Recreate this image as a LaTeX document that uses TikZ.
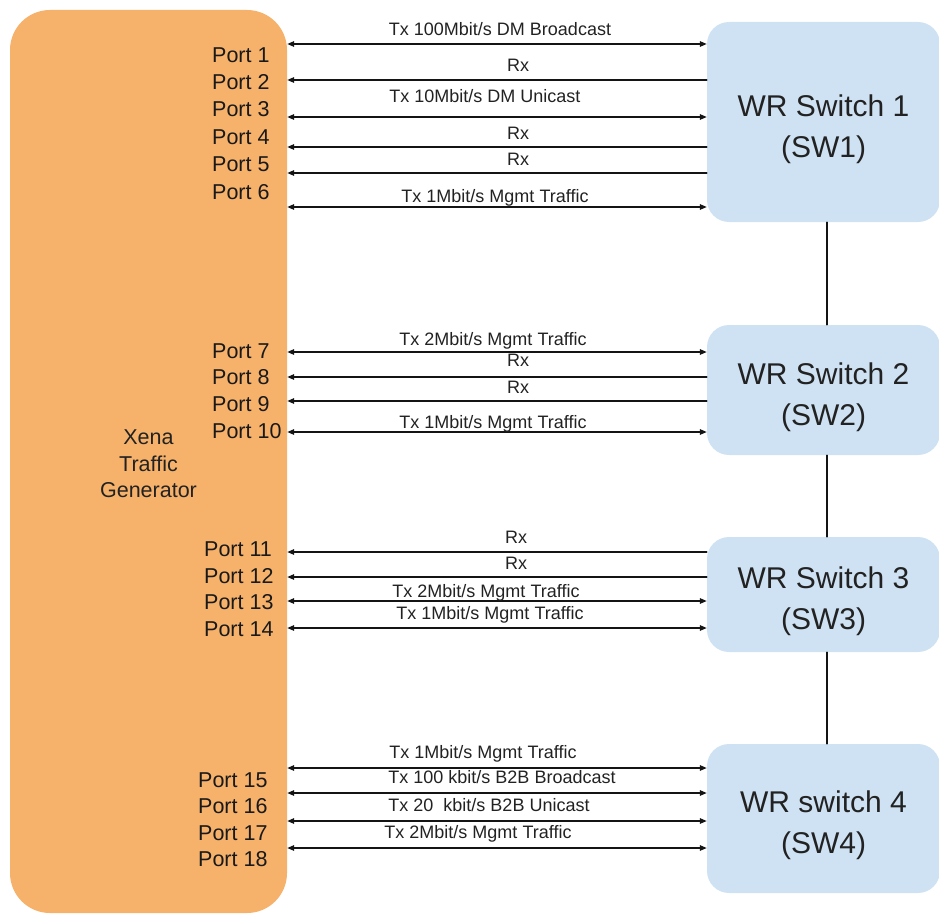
\documentclass[tikz,border=0pt]{standalone}
\usepackage{fontspec}
\setmainfont{Liberation Sans}
\usetikzlibrary{arrows.meta,calc}
\definecolor{xenaorange} {RGB}{246,178,107}
\definecolor{switchblue} {RGB}{207,226,243}
\definecolor{textgray}   {RGB}{ 34, 34, 34}
\definecolor{linkcol}    {RGB}{ 20, 20, 20}
\tikzset{
  %% Big rounded boxes
  xenabox/.style={
    fill=xenaorange, rounded corners=40pt, inner sep=0pt,
    align=center, text=textgray,
    font=\fontsize{21.5}{26.5}\selectfont
  },
  switchbox/.style={
    fill=switchblue, rounded corners=22pt, inner sep=0pt,
    align=center, text=textgray,
    font=\fontsize{30}{41}\selectfont
  },
  %% Plain text labels
  portlabel/.style={
    anchor=west, inner sep=0pt, text=black!90,
    text height=15.5pt, text depth=0pt,
    font=\fontsize{21.5}{24}\selectfont
  },
  linklabel/.style={
    inner sep=0pt, text=textgray,
    text height=13pt, text depth=0pt,
    font=\fontsize{18}{20}\selectfont
  },
  %% Connectors
  txlink/.style={
    draw=linkcol, line width=1.4pt,
    {Triangle[length=7pt,width=5.5pt]}-{Triangle[length=7pt,width=5.5pt]}
  },
  rxlink/.style={
    draw=linkcol, line width=1.4pt,
    {Triangle[length=7pt,width=5.5pt]}-
  },
  trunk/.style={draw=linkcol, line width=1.4pt},
}
\newcommand{\toppad}[1]{\rule{0pt}{#1}}

\begin{document}
\begin{tikzpicture}[x=1pt, y=-1pt, line cap=round, line join=round]

  \useasboundingbox (0,0) rectangle (939,915);

  %% ══════════════════════════════════════════════════════════════════════
  %%  TRAFFIC GENERATOR
  %% ══════════════════════════════════════════════════════════════════════
  \node[xenabox, minimum width=277pt, minimum height=903pt]
        (xena) at (148.5,461.5) {\toppad{19.5pt}Xena\\Traffic\\Generator};

  %% ══════════════════════════════════════════════════════════════════════
  %%  SWITCHES
  %% ══════════════════════════════════════════════════════════════════════
  \node[switchbox, minimum width=233pt, minimum height=200pt]
        (sw1) at (823.5,122)   {\toppad{36pt}WR Switch 1\\(SW1)};
  \node[switchbox, minimum width=233pt, minimum height=130pt]
        (sw2) at (823.5,390)   {\toppad{36pt}WR Switch 2\\(SW2)};
  \node[switchbox, minimum width=233pt, minimum height=115pt]
        (sw3) at (823.5,594.5) {\toppad{36pt}WR Switch 3\\(SW3)};
  \node[switchbox, minimum width=233pt, minimum height=149pt]
        (sw4) at (823.5,818.5) {\toppad{36pt}WR switch 4\\(SW4)};

  %% Chain between switches
  \draw[trunk] ([xshift=3.5pt]sw1.south) -- ([xshift=3.5pt]sw2.north);
  \draw[trunk] ([xshift=3.5pt]sw2.south) -- ([xshift=3.5pt]sw3.north);
  \draw[trunk] ([xshift=3.5pt]sw3.south) -- ([xshift=3.5pt]sw4.north);

  %% ── Port names ───────────────────────────────────────────────────────
  \foreach \yp/\xp [count=\i] in {
    55/212, 82/212, 109/212, 137/212, 164/212, 192/212,
    351/212, 377/212, 404/212, 431/212,
    549/204, 576/204, 602/204, 629/204,
    780/198, 806/198, 833/198, 859/198
  }{
    \node[portlabel] (port\i) at (\xp,\yp) {Port \i};
  }

  %% ── Links: arrow y / label y / label x / switch / kind / text ────────
  \foreach \ya/\yl/\xl/\sw/\kind/\txt [count=\i] in {
    44/29/500/sw1/txlink/{Tx 100Mbit/s DM Broadcast},
    80/65/518/sw1/rxlink/{Rx},
    117/96/485/sw1/txlink/{Tx 10Mbit/s DM Unicast},
    147/133/518/sw1/rxlink/{Rx},
    173/159/518/sw1/rxlink/{Rx},
    207/196/495/sw1/txlink/{Tx 1Mbit/s Mgmt Traffic},
    352/339/493/sw2/txlink/{Tx 2Mbit/s Mgmt Traffic},
    377/360/518/sw2/rxlink/{Rx},
    401/387/518/sw2/rxlink/{Rx},
    432/422/493/sw2/txlink/{Tx 1Mbit/s Mgmt Traffic},
    552/537/516/sw3/rxlink/{Rx},
    577/563/516/sw3/rxlink/{Rx},
    601/591/486/sw3/txlink/{Tx 2Mbit/s Mgmt Traffic},
    628/613/490/sw3/txlink/{Tx 1Mbit/s Mgmt Traffic},
    768/752/483/sw4/txlink/{Tx 1Mbit/s Mgmt Traffic},
    793/777/502/sw4/txlink/{Tx 100 kbit/s B2B Broadcast},
    821/805/489/sw4/txlink/{Tx 20\ \ kbit/s B2B Unicast},
    848/832/478/sw4/txlink/{Tx 2Mbit/s Mgmt Traffic}
  }{
    \coordinate (lk\i) at (0,\ya);
    \draw[\kind] (xena.east |- lk\i) -- (\sw.west |- lk\i);
    \node[linklabel] (lab\i) at (\xl,\yl) {\txt};
  }

\end{tikzpicture}
\end{document}
